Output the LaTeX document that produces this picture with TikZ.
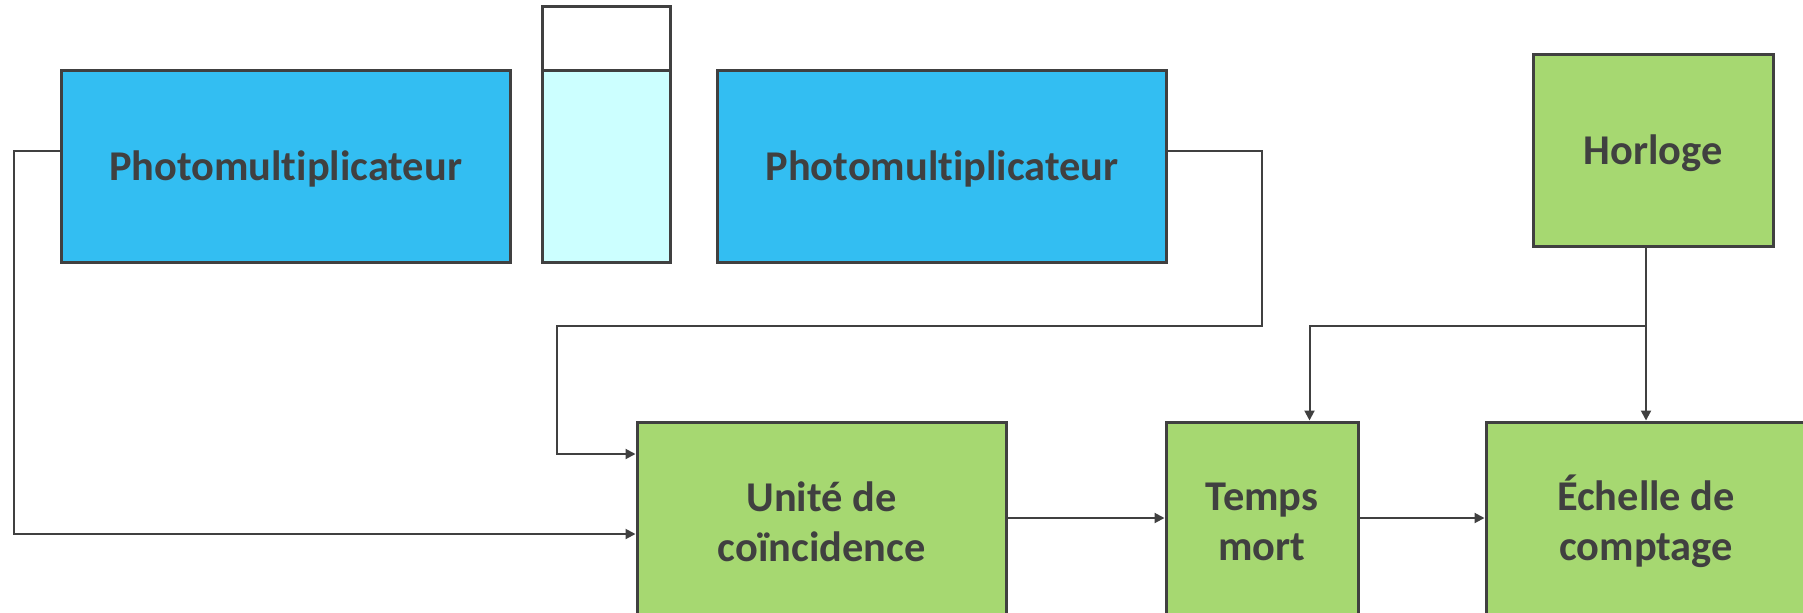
\documentclass[tikz,border=0pt]{standalone}
\usepackage{fontspec}
\setmainfont[Ligatures=NoCommon]{Carlito}
\usetikzlibrary{arrows.meta}
\definecolor{ink}{HTML}{404040}
\definecolor{pmblue}{HTML}{33BEF2}
\definecolor{liquid}{HTML}{CCFFFF}
\definecolor{modgreen}{HTML}{A6D871}

\begin{document}
\begin{tikzpicture}[x=0.5pt,y=-0.5pt,
  blk/.style={draw=ink, line width=1.5pt, inner sep=0pt, text=ink, align=center,
    font=\fontsize{21.2}{25}\selectfont\bfseries},
  oneline/.style={text depth=0pt},
  pmt/.style={blk, oneline, fill=pmblue, minimum width=224.5pt, minimum height=96pt},
  unit/.style={blk, fill=modgreen, minimum height=99.5pt},
  wire/.style={draw=ink, line width=1pt},
  feed/.style={wire, -{Triangle[length=5pt,width=5pt]}}]
\useasboundingbox (0,0) rectangle (1803,612);
\clip (0,0) rectangle (1803,612);

% detectors and the vial between them
\node[pmt] (pm1) at (285.5,166) {Photomultiplicateur};
\node[blk, fill=white, minimum width=64pt, minimum height=32pt] (vialtop) at (606,38) {};
\node[blk, fill=liquid, minimum width=64pt, minimum height=96pt] (vial) at (606,166) {};
\node[pmt] (pm2) at (942,166) {Photomultiplicateur};

% electronics
\node[unit, oneline, minimum width=120pt, minimum height=96pt] (horloge) at (1653,150) {Horloge};
\node[unit, minimum width=184.5pt] (unite) at (821.5,521.5) {Unité de\\coïncidence};
\node[unit, minimum width=96pt] (temps) at (1262,521.5) {Temps\\mort};
\node[unit, minimum width=160pt] (echelle) at (1646,521.5) {Échelle de\\comptage};

% routing helpers
\coordinate (ysig) at (0,150.5);
\coordinate (ybus) at (0,326);
\coordinate (yhi) at (0,454);
\coordinate (ylo) at (0,534);
\coordinate (yarr) at (0,518);
\coordinate (xl) at (14,0);
\coordinate (xr) at (1261.5,0);
\coordinate (xm) at (557,0);
\coordinate (xt) at (1309.5,0);

% signal paths
\draw[feed] (pm1.west |- ysig) -| (xl |- ylo) -- (unite.west |- ylo);
\draw[feed] (pm2.east |- ysig) -| (xr |- ybus) -| (xm |- yhi) -- (unite.west |- yhi);
\draw[feed] (unite.east |- yarr) -- (temps.west |- yarr);
\draw[feed] (temps.east |- yarr) -- (echelle.west |- yarr);
\draw[feed] (horloge.south -| echelle.north) -- (echelle.north);
\draw[feed] (echelle.north |- ybus) -| (xt |- temps.north);
\end{tikzpicture}
\end{document}
